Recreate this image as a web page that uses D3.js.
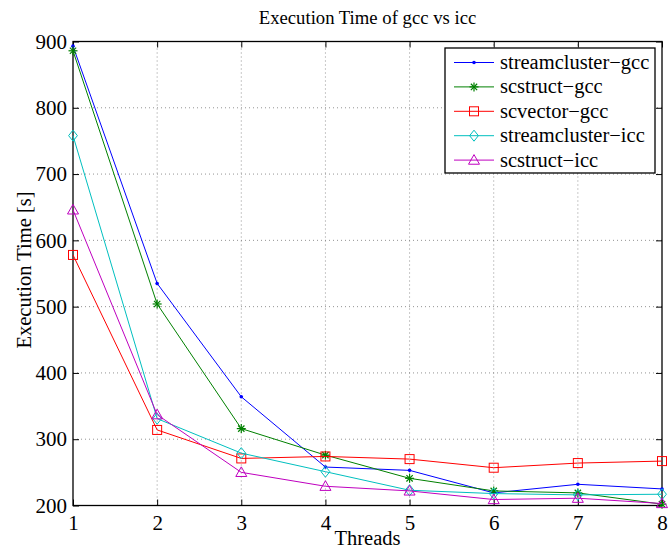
<!DOCTYPE html>
<html>
<head>
<meta charset="utf-8">
<script src="https://cdn.jsdelivr.net/npm/d3@7"></script>
<style>
  body { margin: 0; background: #fff; }
  svg { display: block; }
  text { font-family: "Liberation Serif", "Times New Roman", serif; fill: #000; }
</style>
</head>
<body>
<div id="chart"></div>
<script>
const threads = [1, 2, 3, 4, 5, 6, 7, 8];
const seriesNames = ["streamcluster\u2212gcc", "scstruct\u2212gcc", "scvector\u2212gcc", "streamcluster\u2212icc", "scstruct\u2212icc"];
const streamclusterGcc = [893, 535, 364, 258, 253, 219, 232, 225];
const scstructGcc      = [886, 504, 316, 276, 241, 222, 219, 202];
const scvectorGcc      = [578, 314, 271, 274, 270, 257, 264, 267];
const streamclusterIcc = [758, 331, 279, 251, 223, 218, 216, 217];
const scstructIcc      = [646, 337, 250, 229, 222, 209, 211, 203];
const xTicks = [1, 2, 3, 4, 5, 6, 7, 8];
const yTicks = [200, 300, 400, 500, 600, 700, 800, 900];
const titleText = "Execution Time of gcc vs icc";
const xLabel = "Threads";
const yLabel = "Execution Time [s]";

const colors = ["#0000ff", "#008000", "#ff0000", "#00bfbf", "#bf00bf"];
const markers = ["dot", "star", "square", "diamond", "triangle"];
const allValues = [streamclusterGcc, scstructGcc, scvectorGcc, streamclusterIcc, scstructIcc];

const W = 668, H = 550;
const m = { left: 73, right: 6, top: 41.5, bottom: 44.5 };
const svg = d3.select("#chart").append("svg").attr("width", W).attr("height", H);

const x = d3.scaleLinear().domain([1, 8]).range([m.left, W - m.right]);
const y = d3.scaleLinear().domain([200, 900]).range([H - m.bottom, m.top]);

const x0 = x.range()[0], x1 = x.range()[1], y0 = y.range()[0], y1 = y.range()[1];

// grid
const grid = svg.append("g");
grid.selectAll("line.gx").data(xTicks.slice(1, -1)).enter().append("line")
  .attr("x1", d => x(d)).attr("x2", d => x(d)).attr("y1", y0).attr("y2", y1)
  .attr("stroke", "#777").attr("stroke-width", 0.8).attr("stroke-dasharray", "1,3");
grid.selectAll("line.gy").data(yTicks.slice(1, -1)).enter().append("line")
  .attr("y1", d => y(d)).attr("y2", d => y(d)).attr("x1", x0).attr("x2", x1)
  .attr("stroke", "#777").attr("stroke-width", 0.8).attr("stroke-dasharray", "1,3");

// axes
const tickLen = 6;
const xAxis = d3.axisBottom(x).tickValues(xTicks).tickFormat(d3.format("d")).tickSizeInner(-tickLen).tickSizeOuter(0).tickPadding(10);
const yAxis = d3.axisLeft(y).tickValues(yTicks).tickFormat(d3.format("d")).tickSizeInner(-tickLen).tickSizeOuter(0).tickPadding(6);
const xAxisTop = d3.axisTop(x).tickValues(xTicks).tickFormat("").tickSizeInner(-tickLen).tickSizeOuter(0);
const yAxisRight = d3.axisRight(y).tickValues(yTicks).tickFormat("").tickSizeInner(-tickLen).tickSizeOuter(0);

function styleAxis(g) {
  g.select(".domain").remove();
  g.selectAll(".tick line").attr("stroke", "#000").attr("stroke-width", 1);
  g.selectAll("text").attr("font-family", "Liberation Serif, serif").attr("font-size", 21).attr("fill", "#000");
}
svg.append("g").attr("transform", `translate(0,${y0})`).call(xAxis).call(styleAxis);
svg.append("g").attr("transform", `translate(${x0},0)`).call(yAxis).call(styleAxis);
svg.append("g").attr("transform", `translate(0,${y1})`).call(xAxisTop).call(styleAxis);
svg.append("g").attr("transform", `translate(${x1},0)`).call(yAxisRight).call(styleAxis);

// box
svg.append("rect").attr("x", x0).attr("y", y1).attr("width", x1 - x0).attr("height", y0 - y1)
  .attr("fill", "none").attr("stroke", "#000").attr("stroke-width", 1.3);

// markers
function drawMarker(g, type, color, cx, cy) {
  if (type === "dot") {
    g.append("circle").attr("cx", cx).attr("cy", cy).attr("r", 1.8).attr("fill", color);
  } else if (type === "star") {
    const r = 4.5;
    [[r, 0], [0, r], [r * 0.7, r * 0.7], [r * 0.7, -r * 0.7]].forEach(([dx, dy]) => {
      g.append("line").attr("x1", cx - dx).attr("x2", cx + dx).attr("y1", cy - dy).attr("y2", cy + dy)
        .attr("stroke", color).attr("stroke-width", 1.2);
    });
  } else if (type === "square") {
    const s = 4.5;
    g.append("rect").attr("x", cx - s).attr("y", cy - s).attr("width", 2 * s).attr("height", 2 * s)
      .attr("fill", "none").attr("stroke", color).attr("stroke-width", 1);
  } else if (type === "diamond") {
    const s = 5.5;
    g.append("path").attr("d", `M${cx},${cy - s}L${cx + s * 0.8},${cy}L${cx},${cy + s}L${cx - s * 0.8},${cy}Z`)
      .attr("fill", "none").attr("stroke", color).attr("stroke-width", 1);
  } else if (type === "triangle") {
    const s = 5.5;
    g.append("path").attr("d", `M${cx},${cy - s}L${cx + s},${cy + s * 0.75}L${cx - s},${cy + s * 0.75}Z`)
      .attr("fill", "none").attr("stroke", color).attr("stroke-width", 1);
  }
}

const line = d3.line().x((d, i) => x(threads[i])).y(d => y(d));
allValues.forEach((vals, k) => {
  const g = svg.append("g");
  g.append("path").datum(vals).attr("d", line).attr("fill", "none")
    .attr("stroke", colors[k]).attr("stroke-width", 1);
  vals.forEach((v, i) => drawMarker(g, markers[k], colors[k], x(threads[i]), y(v)));
});

// title & labels
svg.append("text").attr("x", (x0 + x1) / 2).attr("y", 24).attr("text-anchor", "middle")
  .attr("font-size", 18.7).text(titleText);
svg.append("text").attr("x", (x0 + x1) / 2).attr("y", 545).attr("text-anchor", "middle")
  .attr("font-size", 20.5).text(xLabel);
svg.append("text").attr("transform", `translate(31,270) rotate(-90)`).attr("text-anchor", "middle")
  .attr("font-size", 20.5).text(yLabel);

// legend
const lg = svg.append("g");
const lx = 445, ly = 48, lw = 210, lh = 125;
lg.append("rect").attr("x", lx).attr("y", ly).attr("width", lw).attr("height", lh)
  .attr("fill", "#fff").attr("stroke", "#000").attr("stroke-width", 1.3);
seriesNames.forEach((name, k) => {
  const ry = 62.5 + k * 24.4;
  lg.append("line").attr("x1", 454).attr("x2", 494).attr("y1", ry).attr("y2", ry)
    .attr("stroke", colors[k]).attr("stroke-width", 1);
  drawMarker(lg, markers[k], colors[k], 474, ry);
  lg.append("text").attr("x", 500).attr("y", ry + 6.5).attr("font-size", 20.5).text(name);
});
</script>
</body>
</html>
